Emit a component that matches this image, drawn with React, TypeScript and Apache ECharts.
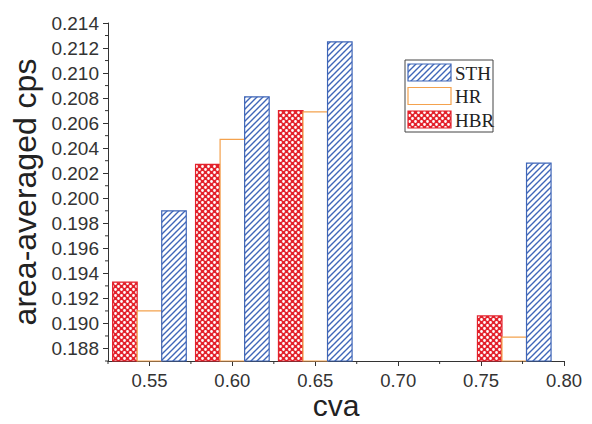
import React, { useEffect, useRef } from "react";
import * as echarts from "echarts";

// ---- data ----
const cvaGroups = [0.55, 0.6, 0.65, 0.77];
const sthValues = [0.199, 0.2081, 0.2125, 0.2028];
const hrValues = [0.191, 0.2047, 0.2069, 0.1889];
const hbrValues = [0.1933, 0.2027, 0.207, 0.1906];
const xMajorTicks = [0.55, 0.6, 0.65, 0.7, 0.75, 0.8];
const xMinorTicks = [0.525, 0.575, 0.625, 0.675, 0.725, 0.775];
const yMajorTicks = [0.188, 0.19, 0.192, 0.194, 0.196, 0.198, 0.2, 0.202, 0.204, 0.206, 0.208, 0.21, 0.212, 0.214];
const yMinorTicks = [0.187, 0.189, 0.191, 0.193, 0.195, 0.197, 0.199, 0.201, 0.203, 0.205, 0.207, 0.209, 0.211, 0.213];
const legendNames = ["STH", "HR", "HBR"];
const xTitle = "cva";
const yTitle = "area-averaged cps";

const X_MIN = 0.525;
const X_MAX = 0.8;
const Y_MIN = 0.187;
const Y_MAX = 0.214;
const BAR_W = 0.0148;

const BLUE = "#3f66b8";
const RED = "#e3222c";
const ORANGE = "#f4a24e";
const AXIS = "#333";
const SANS = "'Liberation Sans', Arial, sans-serif";
const SERIF = "'Liberation Serif', 'Times New Roman', serif";

function hatchCanvas(): HTMLCanvasElement {
  const c = document.createElement("canvas");
  c.width = 6;
  c.height = 6;
  const g = c.getContext("2d")!;
  g.fillStyle = "#fff";
  g.fillRect(0, 0, 6, 6);
  g.strokeStyle = BLUE;
  g.lineWidth = 1.4;
  g.beginPath();
  g.moveTo(-1, 7);
  g.lineTo(7, -1);
  g.moveTo(-1, 1);
  g.lineTo(1, -1);
  g.moveTo(5, 7);
  g.lineTo(7, 5);
  g.stroke();
  return c;
}

function crossCanvas(): HTMLCanvasElement {
  const c = document.createElement("canvas");
  c.width = 6;
  c.height = 6;
  const g = c.getContext("2d")!;
  g.fillStyle = RED;
  g.fillRect(0, 0, 6, 6);
  g.fillStyle = "#fff";
  g.beginPath();
  g.arc(1.5, 1.5, 1.4, 0, Math.PI * 2);
  g.arc(4.5, 4.5, 1.4, 0, Math.PI * 2);
  g.fill();
  return c;
}

export default function App() {
  const ref = useRef<HTMLDivElement>(null);
  useEffect(() => {
    if (!ref.current) return;
    const chart = echarts.init(ref.current, null, { renderer: "svg" });
    const hatch = { image: hatchCanvas(), repeat: "repeat" };
    const cross = { image: crossCanvas(), repeat: "repeat" };

    const makeSeries = (name: string, offset: number, values: number[], fill: any, stroke: string) => ({
      type: "custom",
      name,
      coordinateSystem: "cartesian2d",
      encode: { x: 0, y: 1 },
      data: cvaGroups.map((c, i) => [c + offset, values[i]]),
      renderItem: (_p: any, api: any) => {
        const x = api.value(0);
        const y = api.value(1);
        const p1 = api.coord([x - BAR_W / 2, y]);
        const p2 = api.coord([x + BAR_W / 2, Y_MIN]);
        return {
          type: "rect",
          shape: { x: p1[0], y: p1[1], width: p2[0] - p1[0], height: p2[1] - p1[1] },
          style: { fill, stroke, lineWidth: 1.2 },
        };
      },
    });

    // minor tick marks drawn through the axes' scales
    const minorTickSeries = (vals: number[][], dir: "x" | "y") => ({
      type: "custom",
      name: "minor-" + dir,
      coordinateSystem: "cartesian2d",
      encode: { x: 0, y: 1 },
      clip: false,
      silent: true,
      z: 5,
      data: vals,
      renderItem: (_p: any, api: any) => {
        const p = api.coord([api.value(0), api.value(1)]);
        const shape =
          dir === "x"
            ? { x1: p[0], y1: p[1], x2: p[0], y2: p[1] + 3 }
            : { x1: p[0], y1: p[1], x2: p[0] - 3, y2: p[1] };
        return { type: "line", shape, style: { stroke: AXIS, lineWidth: 1 } };
      },
    });

    const legendItems = [
      { fill: hatch, stroke: BLUE },
      { fill: "#fff", stroke: ORANGE },
      { fill: cross, stroke: RED },
    ];

    const graphic: any[] = [
      {
        type: "rect",
        shape: { x: 405, y: 60, width: 88, height: 72 },
        style: { fill: "#fff", stroke: "#444", lineWidth: 1 },
        z: 10,
      },
      {
        type: "text",
        x: 336,
        y: 405,
        style: {
          text: xTitle,
          font: `30px ${SANS}`,
          fill: "#222",
          align: "center",
          verticalAlign: "middle",
        },
      },
    ];
    legendNames.forEach((n, i) => {
      const y0 = 64 + i * 23.5;
      graphic.push({
        type: "rect",
        shape: { x: 408, y: y0, width: 43, height: 17 },
        style: { fill: legendItems[i].fill, stroke: legendItems[i].stroke, lineWidth: 1.2 },
        z: 11,
      });
      graphic.push({
        type: "text",
        x: 455,
        y: y0 + 9,
        style: { text: n, font: `19px ${SERIF}`, fill: "#222", verticalAlign: "middle" },
        z: 11,
      });
    });

    chart.setOption({
      animation: false,
      backgroundColor: "#fff",
      grid: { left: 108, right: 28, top: 23, bottom: 63, containLabel: false, outerBoundsMode: "none" },
      xAxis: {
        type: "value",
        min: X_MIN,
        max: X_MAX,
        position: "bottom",
        axisLine: { lineStyle: { color: AXIS, width: 1 } },
        axisTick: { customValues: xMajorTicks, length: 5, lineStyle: { color: AXIS } },
        axisLabel: {
          customValues: xMajorTicks,
          formatter: (v: number) => v.toFixed(2),
          fontSize: 18.5,
          fontFamily: SANS,
          color: "#333",
          margin: 10,
        },
        splitLine: { show: false },
      },
      yAxis: {
        type: "value",
        min: Y_MIN,
        max: Y_MAX,
        position: "left",
        axisLine: { show: true, lineStyle: { color: AXIS, width: 1 } },
        axisTick: { show: true, customValues: yMajorTicks, length: 5, lineStyle: { color: AXIS } },
        axisLabel: {
          customValues: yMajorTicks,
          formatter: (v: number) => v.toFixed(3),
          fontSize: 19,
          fontFamily: SANS,
          color: "#333",
          margin: 9,
        },
        splitLine: { show: false },
        name: yTitle,
        nameLocation: "middle",
        nameGap: 58,
        nameTextStyle: { fontSize: 32, fontFamily: SANS, color: "#222" },
      },
      series: [
        makeSeries("HBR", -BAR_W, hbrValues, cross, RED),
        makeSeries("HR", 0, hrValues, "#fff", ORANGE),
        makeSeries("STH", BAR_W, sthValues, hatch, BLUE),
        minorTickSeries(xMinorTicks.map((v) => [v, Y_MIN]), "x"),
        minorTickSeries(yMinorTicks.map((v) => [X_MIN, v]), "y"),
      ],
      graphic,
    });
    return () => chart.dispose();
  }, []);
  return (
    <div
      ref={ref}
      style={{ position: "fixed", left: 0, top: 0, width: 592, height: 424 }}
    />
  );
}
